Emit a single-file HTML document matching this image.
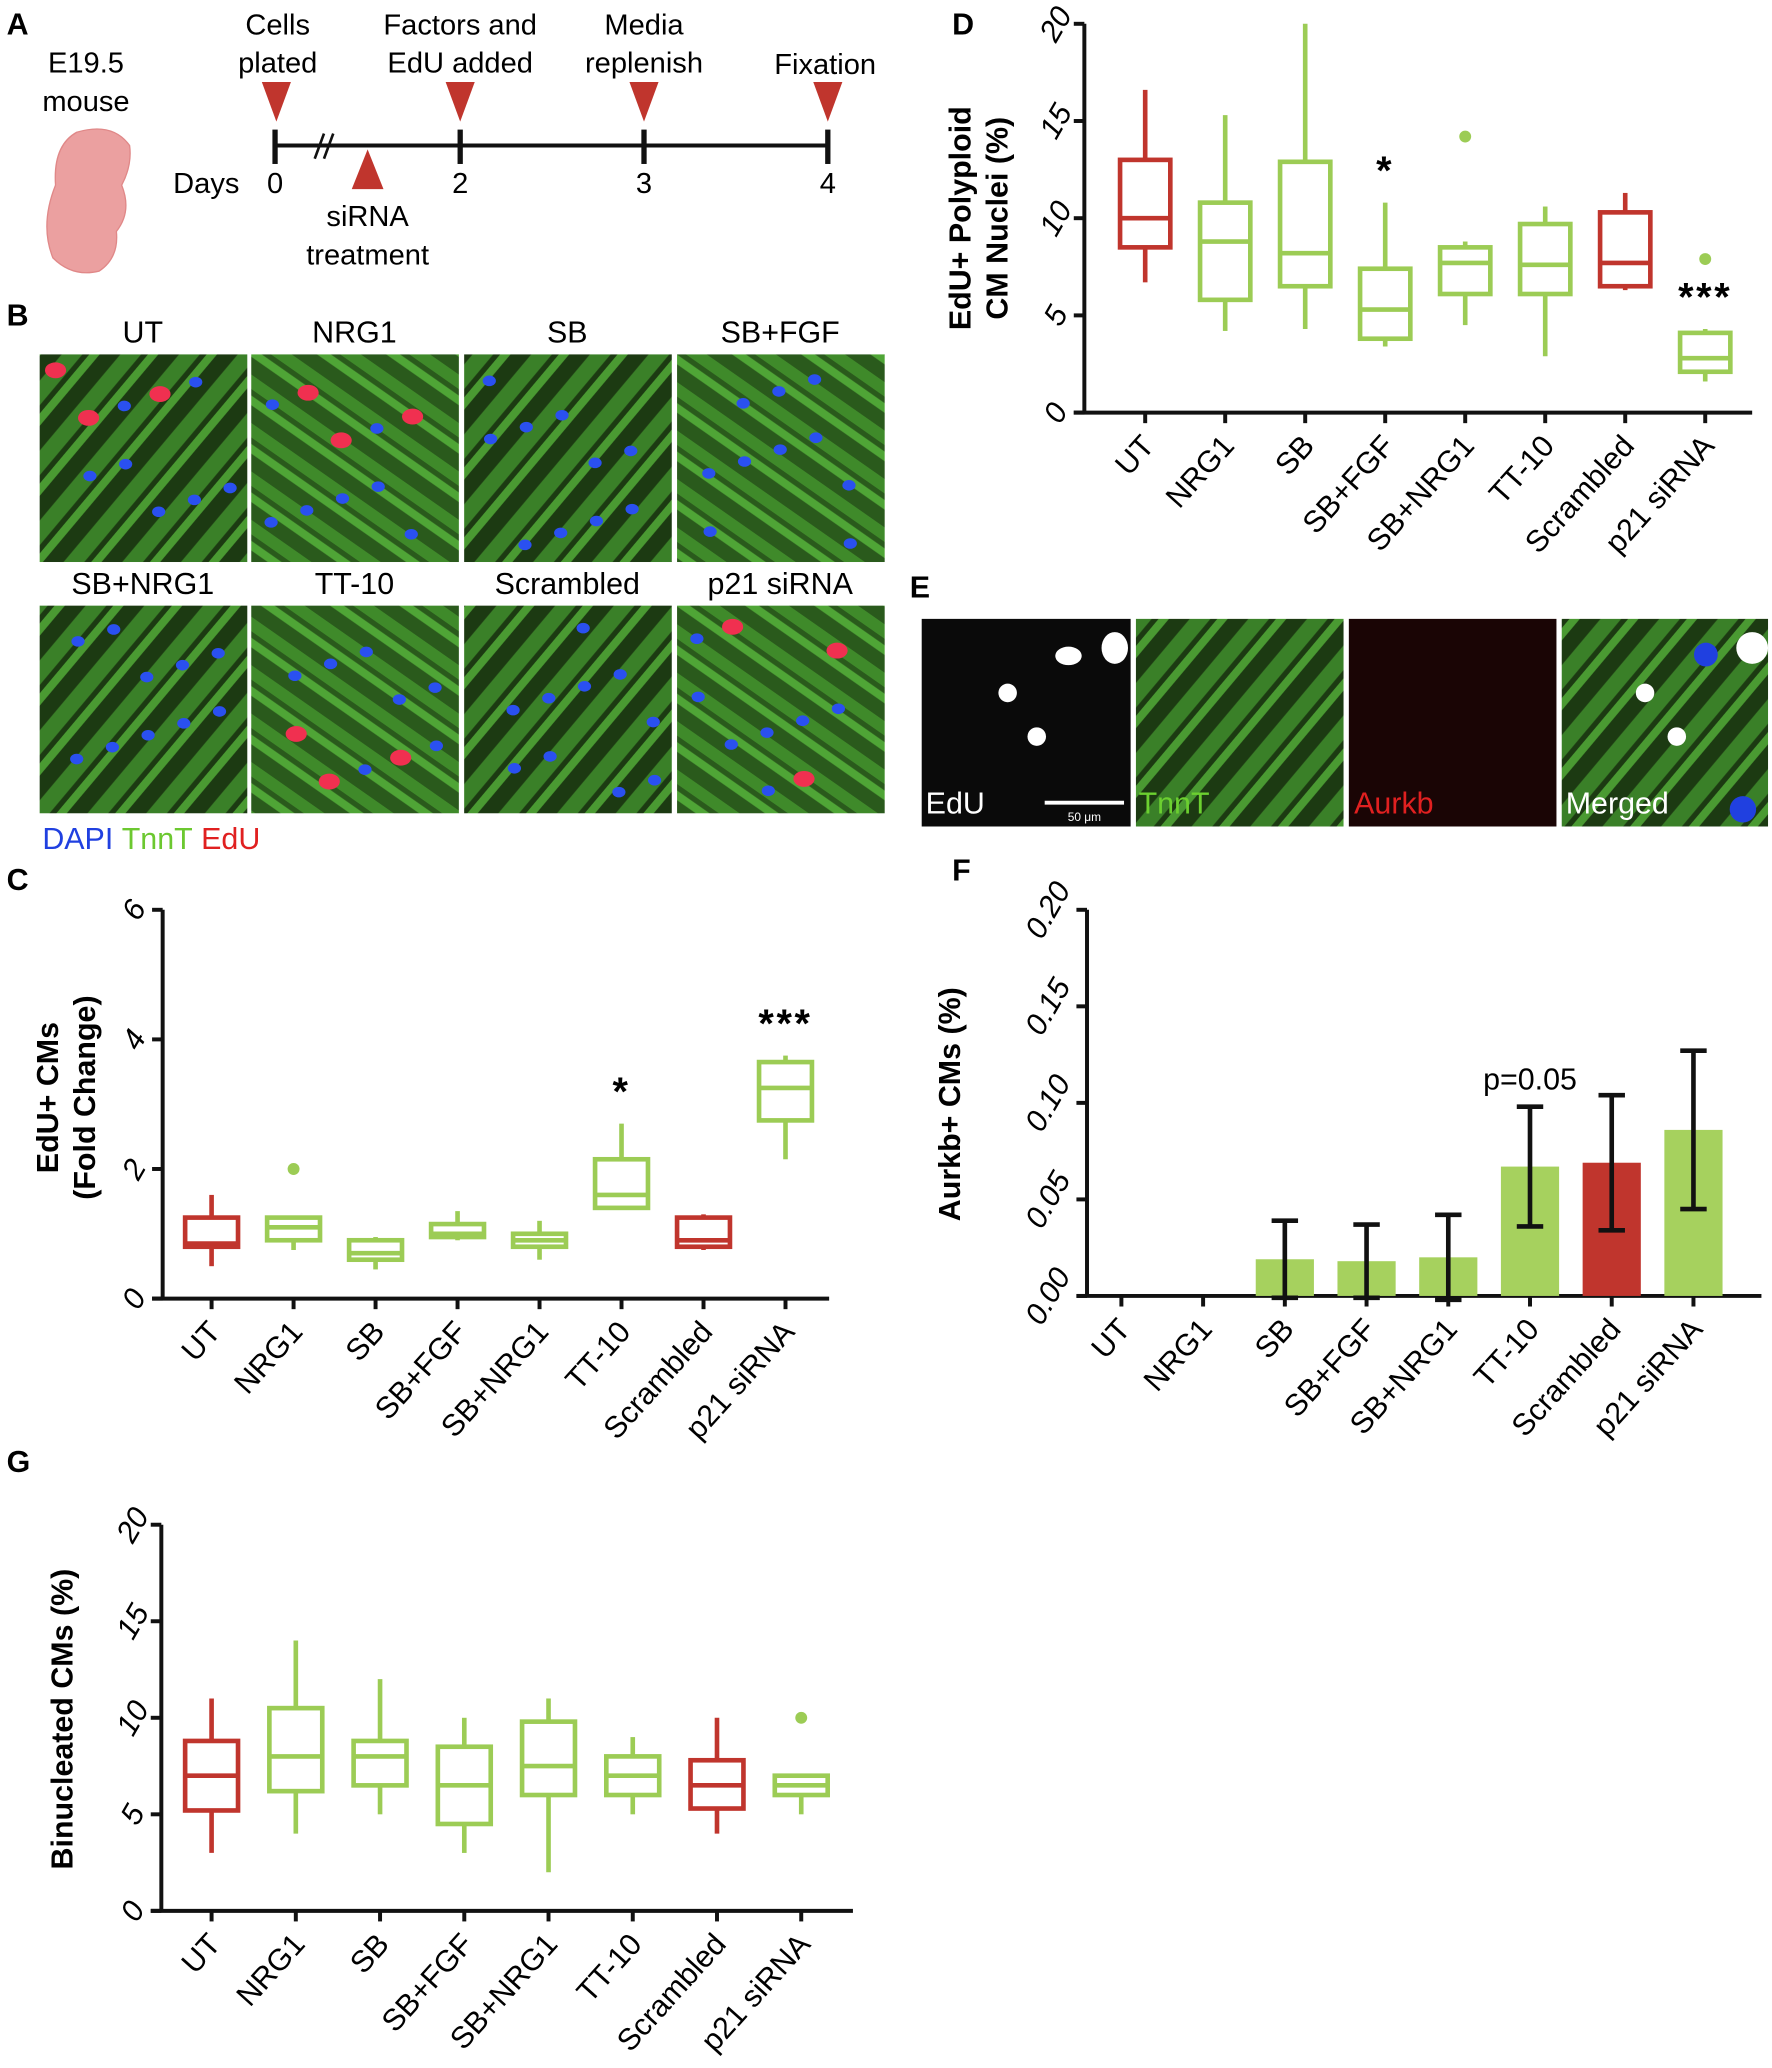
<!DOCTYPE html>
<html><head><meta charset="utf-8">
<style>
html,body{margin:0;padding:0;background:#fff;}
#wrap{width:1772px;height:2068px;overflow:hidden;position:relative;}
#root{position:absolute;left:0;top:0;transform:scale(1.32239);transform-origin:0 0;}
svg text{font-family:"Liberation Sans",sans-serif;}
</style></head>
<body>
<div id="wrap">
<svg id="root" width="1340" height="1564" viewBox="0 0 1340 1564" xmlns="http://www.w3.org/2000/svg">
<defs>
<pattern id="fib" width="30" height="30" patternUnits="userSpaceOnUse" patternTransform="rotate(35)">
<rect width="30" height="30" fill="#2a5a1c"/>
<rect y="3" width="30" height="9" fill="#3f8a2a"/>
<rect y="16" width="30" height="6" fill="#4fa536"/>
</pattern>
<pattern id="fib2" width="34" height="34" patternUnits="userSpaceOnUse" patternTransform="rotate(-50)">
<rect width="34" height="34" fill="#1c3a12"/>
<rect y="4" width="34" height="12" fill="#3a8028"/>
<rect y="20" width="34" height="6" fill="#4a9a32"/>
</pattern>
</defs>

<!-- Panel A -->
<g font-size="22" text-anchor="middle">
<text x="5" y="26" font-weight="bold" text-anchor="start" font-size="23">A</text>
<text x="65" y="55">E19.5</text>
<text x="65" y="84">mouse</text>
<path d="M58 100 Q40 110 42 140 Q30 170 40 195 Q55 210 75 205 Q90 195 88 175 Q100 160 92 140 Q100 125 98 110 Q85 92 58 100 Z" fill="#eba0a0" stroke="#e08888"/>
<line x1="208" y1="110" x2="626" y2="110" stroke="#111" stroke-width="3"/>
<g stroke="#111" stroke-width="4">
<line x1="208" y1="98" x2="208" y2="124"/><line x1="348" y1="98" x2="348" y2="124"/>
<line x1="487" y1="98" x2="487" y2="124"/><line x1="626" y1="98" x2="626" y2="124"/>
</g>
<g stroke="#111" stroke-width="2"><line x1="238" y1="120" x2="245" y2="101"/><line x1="245" y1="120" x2="252" y2="101"/></g>
<g fill="#c0352d">
<polygon points="198,62 220,62 209,92"/><polygon points="337,62 359,62 348,92"/>
<polygon points="476,62 498,62 487,92"/><polygon points="615,62 637,62 626,92"/>
<polygon points="266,143 290,143 278,113"/>
</g>
<text x="210" y="26">Cells</text><text x="210" y="55">plated</text>
<text x="348" y="26">Factors and</text><text x="348" y="55">EdU added</text>
<text x="487" y="26">Media</text><text x="487" y="55">replenish</text>
<text x="624" y="56">Fixation</text>
<text x="156" y="146">Days</text>
<text x="208" y="146">0</text><text x="348" y="146">2</text><text x="487" y="146">3</text><text x="626" y="146">4</text>
<text x="278" y="171">siRNA</text><text x="278" y="200">treatment</text>
</g>

<!-- Panel B -->
<g id="panelB" font-size="23" text-anchor="middle">
<text x="5" y="246" font-weight="bold" text-anchor="start" font-size="23">B</text>
<text x="32" y="642" text-anchor="start"><tspan fill="#2040e0">DAPI</tspan> <tspan fill="#6cc830">TnnT</tspan> <tspan fill="#e02020">EdU</tspan></text>
</g>

<!-- Panel E -->
<g id="panelE">
<text x="688" y="452" font-weight="bold" font-size="23">E</text>
<rect x="697" y="468" width="158" height="157" fill="#0a0a0a"/>
<circle cx="762" cy="524" r="7" fill="#fff"/><circle cx="784" cy="557" r="7" fill="#fff"/>
<ellipse cx="808" cy="496" rx="10" ry="7" fill="#fff"/><ellipse cx="843" cy="490" rx="10" ry="12" fill="#fff"/>
<line x1="790" y1="607" x2="850" y2="607" stroke="#fff" stroke-width="3"/>
<text x="820" y="621" fill="#fff" font-size="9" text-anchor="middle">50 μm</text>
<text x="700" y="615" fill="#fff" font-size="23">EdU</text>
<rect x="859" y="468" width="157" height="157" fill="url(#fib2)"/>
<text x="861" y="615" fill="#6cd030" font-size="23">TnnT</text>
<rect x="1020" y="468" width="157" height="157" fill="#1a0505"/>
<text x="1024" y="615" fill="#e02020" font-size="23">Aurkb</text>
<rect x="1181" y="468" width="156" height="157" fill="url(#fib2)"/>
<circle cx="1244" cy="524" r="7" fill="#fff"/><circle cx="1268" cy="557" r="7" fill="#fff"/>
<circle cx="1325" cy="490" r="12" fill="#fff"/><circle cx="1290" cy="495" r="9" fill="#2040e0"/><circle cx="1318" cy="612" r="10" fill="#2040e0"/>
<text x="1184" y="615" fill="#fff" font-size="23">Merged</text>
</g>

<g id="chartC"></g>
<g id="chartD"></g>
<g id="chartF"></g>
<g id="chartG"></g>
</svg>
</div>
<script>
const NS="http://www.w3.org/2000/svg";
const RED="#c0352d", GREEN="#9ccc55";
const categories=["UT","NRG1","SB","SB+FGF","SB+NRG1","TT-10","Scrambled","p21 siRNA"];
const catColors=[RED,GREEN,GREEN,GREEN,GREEN,GREEN,RED,GREEN];

// Panel C data (fold change)
const cMin=[0.5,0.75,0.45,0.9,0.6,1.4,0.75,2.15];
const cQ1=[0.8,0.9,0.6,0.95,0.8,1.4,0.8,2.75];
const cMed=[0.85,1.1,0.7,1.0,0.9,1.6,0.9,3.25];
const cQ3=[1.25,1.25,0.9,1.15,1.0,2.15,1.25,3.65];
const cMax=[1.6,1.25,0.95,1.35,1.2,2.7,1.3,3.75];
const cOutliers=[[],[2.0],[],[],[],[],[],[]];
const cSig=["","","","","","*","","***"];
const cTicks=[0,2,4,6];

// Panel D data (%)
const dMin=[6.7,4.2,4.3,3.4,4.5,2.9,6.3,1.6];
const dQ1=[8.5,5.8,6.5,3.8,6.1,6.1,6.5,2.1];
const dMed=[10,8.8,8.2,5.3,7.7,7.6,7.7,2.8];
const dQ3=[13,10.8,12.9,7.4,8.5,9.7,10.3,4.1];
const dMax=[16.6,15.3,20,10.8,8.8,10.6,11.3,4.3];
const dOutliers=[[],[],[],[],[14.2],[],[],[7.9]];
const dSig=["","","","*","","","","***"];
const dTicks=[0,5,10,15,20];

// Panel F data (%)
const fMean=[0,0,0.019,0.018,0.020,0.067,0.069,0.086];
const fErr=[0,0,0.020,0.019,0.022,0.031,0.035,0.041];
const fTicks=["0.00","0.05","0.10","0.15","0.20"];

// Panel G data (%)
const gMin=[3,4,5,3,2,5,4,5];
const gQ1=[5.2,6.2,6.5,4.5,6,6,5.3,6];
const gMed=[7,8,8,6.5,7.5,7,6.5,6.5];
const gQ3=[8.8,10.5,8.8,8.5,9.8,8,7.8,7];
const gMax=[11,14,12,10,11,9,10,7];
const gOutliers=[[],[],[],[],[],[],[],[10]];
const gTicks=[0,5,10,15,20];

function mk(parent,tag,attrs,text){const e=document.createElementNS(NS,tag);for(const k in attrs)e.setAttribute(k,attrs[k]);if(text!==undefined)e.textContent=text;parent.appendChild(e);return e;}

function axes(g,o){
  const y=v=>o.y0-(v-o.vmin)/(o.vmax-o.vmin)*(o.y0-o.y1);
  const x=i=>o.xs0+i*o.dx;
  const ya=mk(g,"line",{x1:o.ax,y1:o.y1,x2:o.ax,y2:o.y0,stroke:"#111","stroke-width":3});
  
  
  const xa=mk(g,"line",{x1:o.ax-8,y1:o.y0,x2:o.xEnd,y2:o.y0,stroke:"#111","stroke-width":3});
  
  
  o.ticks.forEach(t=>{
    const v=parseFloat(t),yy=y(v);
    mk(g,"line",{x1:o.ax-8,y1:yy,x2:o.ax,y2:yy,stroke:"#111","stroke-width":3});
    const tx=o.ax-(String(t).length>2?30:22);
    const tl=mk(g,"text",{x:tx,y:yy+8,"font-size":23,"font-style":"italic","text-anchor":"middle",transform:`rotate(-60 ${tx} ${yy})`},String(t));
    
    
  });
  categories.forEach((c,i)=>{
    const xx=x(i);
    mk(g,"line",{x1:xx,y1:o.y0,x2:xx,y2:o.y0+8,stroke:"#111","stroke-width":3});
    const lx=xx+8,ly=o.y0+26;
    const tl=mk(g,"text",{x:lx,y:ly,"font-size":23,"text-anchor":"end",transform:`rotate(-48 ${lx} ${ly})`},c);
    
    
  });
  const tt=mk(g,"text",{x:o.tx,y:o.ty,"font-size":23,"font-weight":"bold","text-anchor":"middle",transform:`rotate(-90 ${o.tx} ${o.ty})`});
  
  
  o.title.forEach((l,k)=>{mk(tt,"tspan",{x:o.tx,dy:k?28:0},l);});
  const pl=mk(g,"text",{x:o.lx,y:o.ly,"font-size":23,"font-weight":"bold"},o.label);
  
  
  return {x,y};
}

function boxChart(id,o,mn,q1,md,q3,mx,outl,sig){
  const g=document.getElementById(id);
  const {x,y}=axes(g,o);
  const w=o.bw;
  categories.forEach((c,i)=>{
    const col=catColors[i],xx=x(i);
    const bg=mk(g,"g",{stroke:col,"stroke-width":3.5,fill:"none"});
    
    
    mk(bg,"line",{x1:xx,y1:y(mx[i]),x2:xx,y2:y(q3[i])});
    mk(bg,"line",{x1:xx,y1:y(mn[i]),x2:xx,y2:y(q1[i])});
    mk(bg,"rect",{x:xx-w/2,y:y(q3[i]),width:w,height:Math.max(1,y(q1[i])-y(q3[i]))});
    mk(bg,"line",{x1:xx-w/2,y1:y(md[i]),x2:xx+w/2,y2:y(md[i])});
    outl[i].forEach(v=>{
      const d=mk(g,"circle",{cx:xx,cy:y(v),r:4.5,fill:col});
      
      
    });
    if(sig&&sig[i]){
      const s=mk(g,"text",{x:xx,y:y(mx[i])-14,"font-size":30,"font-weight":"bold","text-anchor":"middle","letter-spacing":"2"},sig[i]);
      
      
    }
  });
}

boxChart("chartC",{label:"C",lx:5,ly:673,ax:123,y0:982,y1:688,vmin:0,vmax:6,xs0:160,dx:62,xEnd:627,bw:40,ticks:cTicks,title:["EdU+ CMs","(Fold Change)"],tx:44,ty:830},cMin,cQ1,cMed,cQ3,cMax,cOutliers,cSig);
boxChart("chartD",{label:"D",lx:720,ly:26,ax:820,y0:312,y1:18,vmin:0,vmax:20,xs0:866,dx:60.5,xEnd:1325,bw:38,ticks:dTicks,title:["EdU+ Polyploid","CM Nuclei (%)"],tx:734,ty:165},dMin,dQ1,dMed,dQ3,dMax,dOutliers,dSig);
boxChart("chartG",{label:"G",lx:5,ly:1113,ax:122,y0:1445,y1:1153,vmin:0,vmax:20,xs0:160,dx:63.7,xEnd:645,bw:40,ticks:gTicks,title:["Binucleated CMs (%)"],tx:55,ty:1300},gMin,gQ1,gMed,gQ3,gMax,gOutliers,null);

(function(){
  const g=document.getElementById("chartF");
  const o={label:"F",lx:720,ly:666,ax:822,y0:980,y1:688,vmin:0,vmax:0.2,xs0:848,dx:61.8,xEnd:1332,ticks:fTicks,title:["Aurkb+ CMs (%)"],tx:726,ty:835};
  const {x,y}=axes(g,o);
  categories.forEach((c,i)=>{
    const xx=x(i),w=44;
    const b=mk(g,"rect",{x:xx-w/2,y:y(fMean[i]),width:w,height:Math.max(0,o.y0-y(fMean[i])),fill:catColors[i]===RED?"#c0352d":"#a6d15e"});
    
    
    if(fErr[i]>0){
      const e=mk(g,"g",{stroke:"#111","stroke-width":3.5});
      
      
      const t=y(fMean[i]+fErr[i]),bo=y(fMean[i]-fErr[i]);
      mk(e,"line",{x1:xx,y1:t,x2:xx,y2:bo});
      mk(e,"line",{x1:xx-10,y1:t,x2:xx+10,y2:t});
      mk(e,"line",{x1:xx-10,y1:bo,x2:xx+10,y2:bo});
    }
  });
  const p=mk(g,"text",{x:x(5),y:y(fMean[5]+fErr[5])-13,"font-size":23,"text-anchor":"middle"},"p=0.05");
  
  
})();

// Panel B micrographs (decorative)
const bLabels=["UT","NRG1","SB","SB+FGF","SB+NRG1","TT-10","Scrambled","p21 siRNA"];
(function(){
  const g=document.getElementById("panelB");
  const cols=[30,190,351,512],rows=[268,458];
  bLabels.forEach((l,i)=>{
    const cx=cols[i%4],ry=rows[Math.floor(i/4)];
    const r=mk(g,"rect",{x:cx,y:ry,width:157,height:157,fill:i%2?"url(#fib)":"url(#fib2)"});
    
    
    const t=mk(g,"text",{x:cx+78,y:ry-9,"text-anchor":"middle"},l);
    
    
    for(let k=0;k<10;k++){
      const px=cx+12+((k*53+i*31)%133),py=ry+12+((k*71+i*17)%133);
      const red=(k%4===0)&&(i===0||i===5||i===7||i===1);
      mk(g,"ellipse",{cx:px,cy:py,rx:red?8:5,ry:red?6:4,fill:red?"#f03050":"#2a50f0"});
    }
  });
})();
</script>
</body></html>
